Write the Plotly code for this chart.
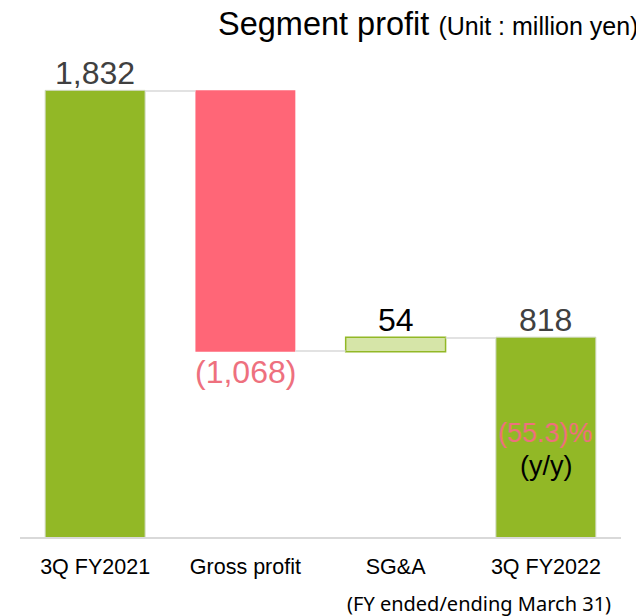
import plotly.graph_objects as go

# Segment profit bridge (unit: million yen)
categories = ["3Q FY2021", "Gross profit", "SG&A", "3Q FY2022"]
measures = ["absolute", "relative", "relative", "total"]
values = [1832, -1068, 54, 818]
value_labels = ["1,832", "(1,068)", "54", "818"]
yoy_label = "(55.3)%"

# running totals, used to hang the labels on the bars
levels = []
run = 0
for m, v in zip(measures, values):
    if m == "absolute":
        run = v
    elif m == "relative":
        run += v
    levels.append(run)

green = "#92B826"
pink = "#FF6677"
label_pink = "#EE707E"
font = "Liberation Sans, Arial, sans-serif"

# page has an 8px body margin, so the figure is drawn 8px smaller
W, H = 636, 608
L, R, T, B = 12, 23, 32, 79

fig = go.Figure()

fig.add_trace(go.Waterfall(
    x=categories,
    y=values,
    measure=measures,
    totals=dict(marker=dict(color=green, line=dict(color="#CFD8BE", width=1))),
    decreasing=dict(marker=dict(color=pink, line=dict(color=pink, width=0))),
    increasing=dict(marker=dict(color="#D6E5A8", line=dict(color=green, width=1.5))),
    connector=dict(mode="between", line=dict(color="#D9D9D9", width=1.5)),
    hoverinfo="skip",
))

# value labels
label_colors = ["#404040", label_pink, "#000000", "#404040"]
for i, (cat, txt) in enumerate(zip(categories, value_labels)):
    if values[i] < 0:
        fig.add_annotation(x=cat, y=levels[i], text=txt, showarrow=False,
                           yanchor="top", yshift=-1,
                           font=dict(family=font, size=32, color=label_colors[i]))
    else:
        fig.add_annotation(x=cat, y=levels[i], text=txt, showarrow=False,
                           yanchor="bottom", yshift=-2,
                           font=dict(family=font, size=32, color=label_colors[i]))

# year-on-year change inside the last bar
fig.add_annotation(x=categories[-1], y=levels[-1], text=yoy_label, showarrow=False,
                   yanchor="middle", yshift=-95,
                   font=dict(family=font, size=27, color=label_pink))
fig.add_annotation(x=categories[-1], y=levels[-1], text="(y/y)", showarrow=False,
                   yanchor="middle", yshift=-128,
                   font=dict(family=font, size=27, color="#000000"))

# footnote (pixel position -> paper coords)
fig.add_annotation(x=(471 - L) / (W - L - R), y=(H - B - 595) / (H - T - B),
                   xref="paper", yref="paper", text="(FY ended/ending March 31)",
                   showarrow=False, xanchor="center", yanchor="middle",
                   font=dict(family="Noto Sans", size=20, color="#000000"))

fig.update_layout(
    width=W,
    height=H,
    margin=dict(l=L, r=R, t=T, b=B),
    paper_bgcolor="white",
    plot_bgcolor="white",
    showlegend=False,
    waterfallgap=0.335,
    title=dict(
        text="Segment profit <span style='font-size:25px'>(Unit : million yen)</span>",
        x=210 / W, xanchor="left", xref="container",
        y=1 - 16 / H, yanchor="middle", yref="container",
        font=dict(family=font, size=32.5, color="#000000"),
    ),
    xaxis=dict(
        showline=True, linecolor="#D9D9D9", linewidth=1.5,
        ticks="", showgrid=False, ticklabelstandoff=9,
        tickfont=dict(family=font, size=21.5, color="#000000"),
    ),
    yaxis=dict(
        range=[0, 2042], showgrid=False, zeroline=False,
        showticklabels=False, showline=False,
    ),
)

fig.write_html("out.html")
